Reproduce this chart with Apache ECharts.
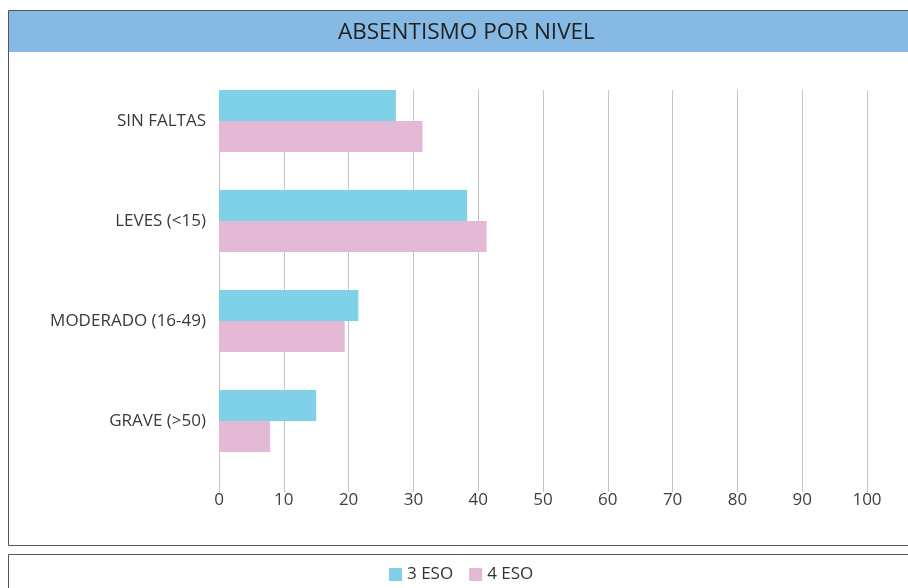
<!DOCTYPE html>
<html>
<head>
<meta charset="utf-8">
<script src="https://cdn.jsdelivr.net/npm/echarts@6/dist/echarts.min.js"></script>
<style>
  html, body { margin: 0; padding: 0; background: #fff; }
  #main { width: 908px; height: 588px; }
</style>
</head>
<body>
<div id="main"></div>
<script>
    // datos del gráfico
    var categorias = ['SIN FALTAS', 'LEVES (<15)', 'MODERADO (16-49)', 'GRAVE (>50)'];
    var eso3 = [27.3, 38.3, 21.5, 15.0];
    var eso4 = [31.4, 41.3, 19.4, 7.9];
    var series_nombres = ['3 ESO', '4 ESO'];
    var colores = ['#7fd1e8', '#e3b9d6'];

    var myChart = echarts.init(document.getElementById('main'));

    var fuente = 'Open Sans';
    var option = {
        animation: false,
        textStyle: { fontFamily: fuente },
        graphic: [
            // marco del gráfico
            { type: 'rect', shape: { x: 8.5, y: 10.5, width: 910, height: 535 },
              style: { fill: '#fff', stroke: '#555', lineWidth: 1 }, z: -10 },
            // barra del título
            { type: 'rect', shape: { x: 9, y: 11, width: 899, height: 41 },
              style: { fill: '#86b9e3' }, z: -9 },
            // marco de la leyenda
            { type: 'rect', shape: { x: 8.5, y: 554.5, width: 910, height: 50 },
              style: { fill: '#fff', stroke: '#555', lineWidth: 1 }, z: -10 }
        ],
        title: {
            text: 'ABSENTISMO POR NIVEL',
            left: 333,
            top: 16,
            textStyle: { fontFamily: fuente, fontSize: 22.5, fontWeight: 'normal', color: '#222' }
        },
        legend: {
            data: series_nombres,
            bottom: 0,
            left: 384,
            itemWidth: 13,
            itemHeight: 13,
            itemGap: 16,
            icon: 'rect',
            textStyle: { fontSize: 17, color: '#333', fontFamily: fuente }
        },
        grid: [
            { left: 219, right: 41, top: 90, bottom: 99 },
            { left: 219, right: 41, top: 71, bottom: 117 }
        ],
        xAxis: [
            {
                gridIndex: 0, type: 'value', min: 0, max: 100, interval: 10,
                axisLine: { show: false },
                axisTick: { show: true, length: 3, lineStyle: { color: '#c4c4c4' } },
                axisLabel: { fontSize: 17, color: '#404040', margin: 3, fontFamily: fuente },
                splitLine: { show: true, lineStyle: { color: '#c4c4c4', width: 1 } }
            },
            {
                gridIndex: 1, type: 'value', min: 0, max: 100,
                show: false
            }
        ],
        yAxis: [
            { gridIndex: 0, type: 'category', data: categorias, show: false },
            {
                gridIndex: 1, type: 'category', data: categorias, inverse: true,
                axisLine: { show: false },
                axisTick: { show: false },
                axisLabel: { fontSize: 17, color: '#3a3a3a', margin: 13, fontFamily: fuente }
            }
        ],
        series: [
            {
                name: series_nombres[0], type: 'bar', xAxisIndex: 1, yAxisIndex: 1,
                data: eso3, itemStyle: { color: colores[0] },
                barGap: '0%', barCategoryGap: '38%'
            },
            {
                name: series_nombres[1], type: 'bar', xAxisIndex: 1, yAxisIndex: 1,
                data: eso4, itemStyle: { color: colores[1] },
                barGap: '0%', barCategoryGap: '38%'
            }
        ]
    };

    myChart.setOption(option);
</script>
</body>
</html>
